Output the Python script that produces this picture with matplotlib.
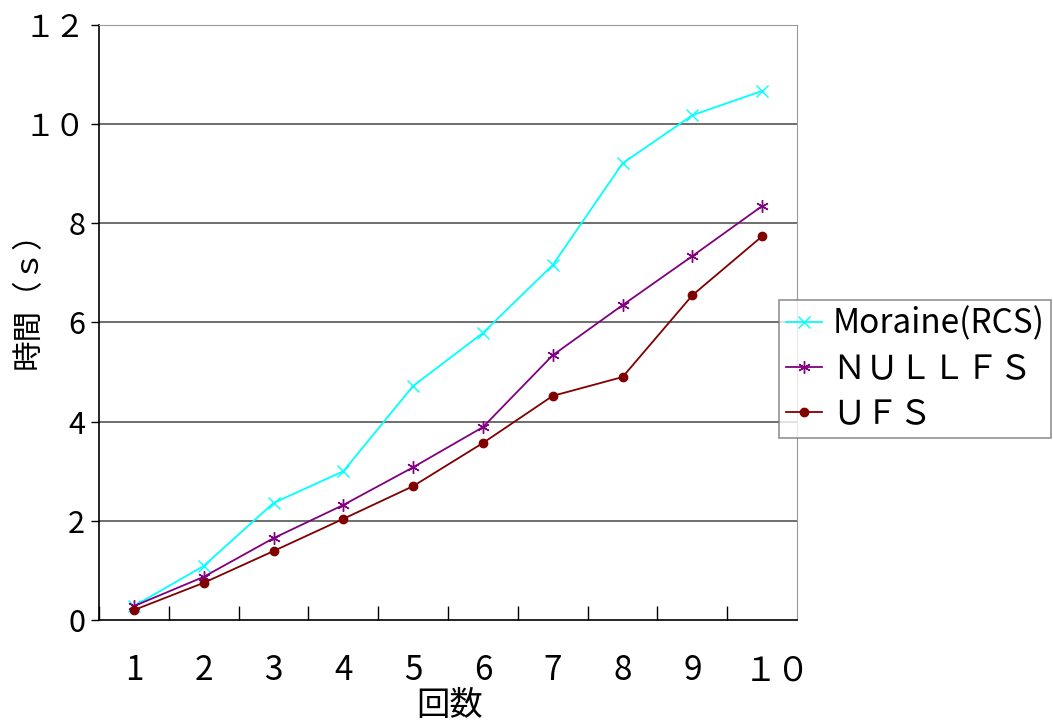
import matplotlib
matplotlib.use('Agg')
import matplotlib.pyplot as plt
import matplotlib.transforms as mtransforms
from matplotlib.ticker import FixedLocator, NullFormatter

plt.rcParams['font.family'] = ['Noto Sans CJK JP', 'DejaVu Sans']

runs = ['1', '2', '3', '4', '5', '6', '7', '8', '9', '１０']
moraine = [0.28, 1.09, 2.36, 3.00, 4.72, 5.79, 7.16, 9.21, 10.18, 10.67]
nullfs = [0.28, 0.87, 1.65, 2.32, 3.08, 3.89, 5.34, 6.35, 7.34, 8.35]
ufs = [0.20, 0.75, 1.39, 2.04, 2.70, 3.57, 4.52, 4.90, 6.55, 7.74]
y_ticks = [0, 2, 4, 6, 8, 10, 12]
y_labels = ['0', '2', '4', '6', '8', '１０', '１２']


def main():
  fig = plt.figure(figsize=(10.53, 7.26), dpi=100)
  ax = fig.add_axes([0.094, 0.146, 0.663, 0.8196])
  x = list(range(1, len(runs) + 1))

  ax.plot(x, moraine, color='#00ffff', marker='x', markersize=8, lw=1.3,
          label='Moraine(RCS)')
  ax.plot(x, nullfs, color='#800080', marker=(6, 2, 0), markersize=9, lw=1.3,
          label='ＮＵＬＬＦＳ')
  ax.plot(x, ufs, color='#800000', marker='o', markersize=6, lw=1.3,
          label='ＵＦＳ')

  ax.set_xlim(0.5, len(runs) + 0.5)
  ax.set_ylim(0, 12)
  ax.set_yticks(y_ticks)
  ax.set_yticklabels(y_labels, fontsize=22)
  for y in y_ticks[1:-1]:
    ax.axhline(y, color='#555555', lw=1.2, zorder=0)

  # category labels centred, ticks on category boundaries
  ax.set_xticks(x)
  ax.set_xticklabels(runs, fontsize=24)
  ax.tick_params(axis='x', which='major', length=0, pad=24)
  ax.xaxis.set_minor_locator(FixedLocator([i + 0.5 for i in range(len(runs))]))
  ax.xaxis.set_minor_formatter(NullFormatter())
  ax.tick_params(axis='x', which='minor', direction='in', length=10, width=1)
  ax.tick_params(axis='y', direction='out', length=6, width=1, pad=4)
  last = ax.get_xticklabels()[-1]
  last.set_transform(last.get_transform() +
                     mtransforms.ScaledTranslation(0.15, 0, fig.dpi_scale_trans))

  for side in ['top', 'right']:
    ax.spines[side].set_color('#999999')
  for side in ['left', 'bottom']:
    ax.spines[side].set_color('black')
    ax.spines[side].set_linewidth(1.2)

  fig.text(28 / 1053, 1 - 293 / 726, '時間（ｓ）', fontsize=22, rotation=90,
           ha='center', va='center')
  fig.text(450 / 1053, 1 - 705 / 726, '回数', fontsize=24,
           ha='center', va='center')

  leg = ax.legend(loc='upper left', bbox_to_anchor=(0.974, 0.538), fontsize=24,
                  frameon=True, fancybox=False, edgecolor='#777777',
                  handlelength=1.1, handletextpad=0.3, borderpad=0.2,
                  labelspacing=0.3, borderaxespad=0.0)
  leg.get_frame().set_linewidth(1.2)

  fig.savefig('out.png', dpi=100)
  plt.close(fig)


if __name__ == '__main__':
  main()
